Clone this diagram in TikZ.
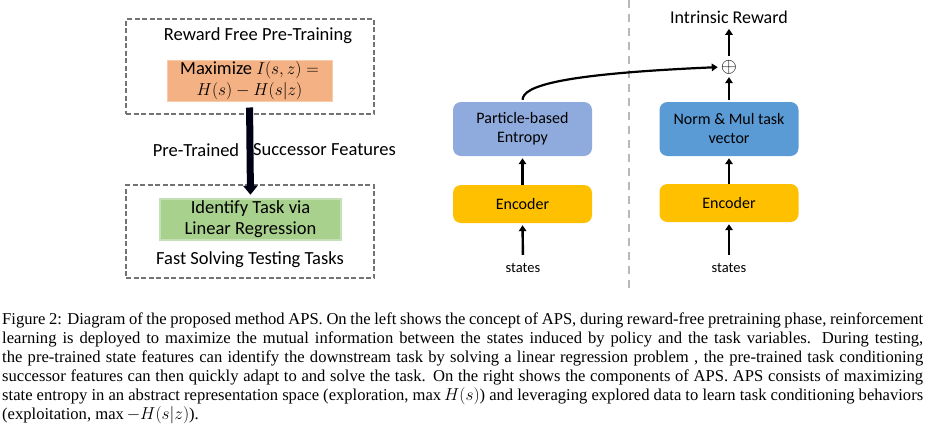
\documentclass[tikz,border=0pt]{standalone}
\usepackage{fontspec}
\setmainfont{Liberation Serif}
\newfontfamily\calibri{Carlito}
\usetikzlibrary{
  arrows.meta,
  positioning
}
\definecolor{maxorange}{HTML}{F4B183}
\definecolor{maxedge}{HTML}{F8CBAD}
\definecolor{taskgreen}{HTML}{A9D18E}
\definecolor{taskedge}{HTML}{C5E0B4}
\definecolor{entblue}{HTML}{8FAADC}
\definecolor{normblue}{HTML}{5B9BD5}
\definecolor{encyellow}{HTML}{FFC000}

\begin{document}
\begin{tikzpicture}[
  x=1pt, y=-1pt,
  font=\calibri\fontsize{18.5}{21}\selectfont,
  phase/.style={
    rectangle, draw=black!55, dashed, line width=1.3pt,
    dash pattern=on 5pt off 2.5pt, minimum width=248pt
  },
  module/.style={
    rectangle, rounded corners=8pt, draw=none,
    minimum width=139pt, align=center, inner sep=0pt,
    font=\calibri\fontsize{16}{19}\selectfont
  },
  entropy/.style={module, fill=entblue, minimum height=54pt},
  taskvec/.style={module, fill=normblue, minimum height=54pt},
  encoder/.style={module, fill=encyellow, minimum height=38pt},
  statelabel/.style={font=\calibri\fontsize{14.5}{17}\selectfont},
  flow/.style={-{Triangle[length=6pt, width=7.5pt]}, line width=2.4pt, black},
  fatarrow/.style={-{Triangle[length=9pt, width=14pt]}, line width=7pt, black!92!blue},
  divider/.style={black!28, line width=2.5pt, dash pattern=on 8pt off 6pt},
]

\useasboundingbox (0,0) rectangle (945,426);

% Left: pre-training and testing phases
\node[phase, minimum height=95pt] (pretrain) at (250,66.5) {};
\node (pretitle) at (258,36) {Reward Free Pre-Training};
\node[rectangle, fill=maxorange, draw=maxedge, line width=1pt,
      minimum width=165pt, minimum height=41pt, inner sep=0pt, align=center]
  (maxbox) at (249.5,80.5)
  {Maximize $I(s,z) =$\\$H(s) - H(s|z)$};

\node[phase, minimum height=93pt] (testphase) at (250,231.5) {};
\node[rectangle, fill=taskgreen, draw=taskedge, line width=2.5pt,
      minimum width=181pt, minimum height=41pt, inner sep=0pt, align=center]
  (taskbox) at (250.5,219.5)
  {Identify Task via\\Linear Regression};
\node (testtitle) at (250,260) {Fast Solving Testing Tasks};

\draw[fatarrow, shorten <=6pt, shorten >=3pt] (maxbox.south) -- (taskbox.north);
\node (pretrained) at (196,150) {Pre-Trained};
\node (successor) at (324.5,150) {Successor Features};

% Divider
\draw[divider] (629,0) -- (629,292);

% Right: exploration branch
\node[entropy] (particle) at (522.5,129) {Particle-based\\Entropy};
\node[encoder] (encA) at (522.5,204) {Encoder};
\node[statelabel] (statesA) at (523,268) {states};

% Right: exploitation branch
\node[taskvec] (norm) at (729,129) {Norm \& Mul task\\vector};
\node[encoder] (encB) at (729,203) {Encoder};
\node[statelabel] (statesB) at (729,268) {states};
\node[inner sep=0pt, font=\fontsize{21}{21}\selectfont] (oplus) at (729,67) {$\oplus$};
\node[font=\calibri\fontsize{18}{21}\selectfont] (reward) at (729,17) {Intrinsic Reward};

\draw[flow, shorten <=5pt, shorten >=2pt] (statesA.north) -- (encA.south);
\draw[flow, shorten >=2pt] (encA.north) -- (particle.south);
\draw[flow, shorten <=5pt, shorten >=2pt] (statesB.north) -- (encB.south);
\draw[flow, shorten >=2pt] (encB.north) -- (norm.south);
\draw[flow, shorten <=2pt, shorten >=3pt] (norm.north) -- (oplus.south);
\draw[flow, shorten <=4pt, shorten >=2pt] (oplus.north) -- (reward.south);
\draw[flow, line width=2.2pt, shorten <=2pt, shorten >=3pt]
  (particle.north) .. controls (523,86) and (560,74) .. (oplus.west);

% Caption
\node[anchor=north west, inner sep=0pt, text width=921pt, align=justify,
      font=\rmfamily\fontsize{16.6}{19}\selectfont] (caption) at (2,313)
  {Figure 2: Diagram of the proposed method APS. On the left shows the concept of APS, during reward-free pretraining phase, reinforcement\linebreak
   learning is deployed to maximize the mutual information between the states induced by policy and the task variables. During testing,\linebreak
   the pre-trained state features can identify the downstream task by solving a linear regression problem , the pre-trained task conditioning\linebreak
   successor features can then quickly adapt to and solve the task. On the right shows the components of APS. APS consists of maximizing\linebreak
   state entropy in an abstract representation space (exploration, $\max H(s)$) and leveraging explored data to learn task conditioning behaviors\linebreak
   (exploitation, $\max -H(s|z)$).};

\end{tikzpicture}
\end{document}
